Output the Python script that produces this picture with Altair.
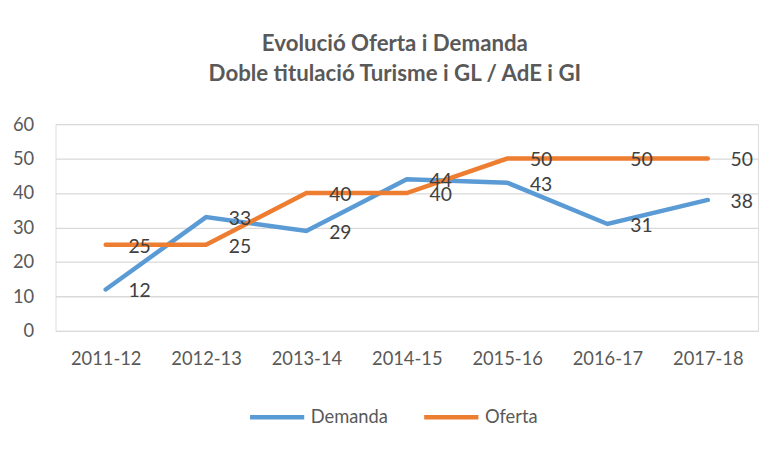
import altair as alt
import pandas as pd

years = ["2011-12", "2012-13", "2013-14", "2014-15", "2015-16", "2016-17", "2017-18"]
demanda = [12, 33, 29, 44, 43, 31, 38]
oferta = [25, 25, 40, 40, 50, 50, 50]
series = ["Demanda", "Oferta"]
colors = ["#5B9BD5", "#ED7D31"]

rows = []
for s, vals in zip(series, [demanda, oferta]):
    for y, v in zip(years, vals):
        rows.append({"Curs": y, "Valor": v, "Serie": s, "ord": series.index(s)})
df = pd.DataFrame(rows)

FONT = "Lato"

x = alt.X("Curs:N", sort=years, scale=alt.Scale(type="point", padding=0.5),
          axis=alt.Axis(title=None, labelAngle=0, domain=False, ticks=False, grid=False,
                        labelFontSize=18.5, labelColor="#595959", labelPadding=19, labelFont=FONT))
y = alt.Y("Valor:Q", scale=alt.Scale(domain=[0, 60], nice=False),
          axis=alt.Axis(title=None, values=[0, 10, 20, 30, 40, 50, 60], domain=False, ticks=False,
                        gridColor="#D9D9D9", gridWidth=1.3, labelFontSize=18.5, labelColor="#595959",
                        labelPadding=22, labelFont=FONT))
color = alt.Color("Serie:N", scale=alt.Scale(domain=series, range=colors),
                  legend=alt.Legend(title=None, orient="none", direction="horizontal",
                                    legendX=194, legendY=266,
                                    symbolType="stroke", symbolSize=3000, symbolStrokeWidth=4.5,
                                    labelFontSize=18.5, labelColor="#595959", labelFont=FONT,
                                    labelOffset=4, columnPadding=27, symbolOffset=0))

base = alt.Chart(df)
lines = base.mark_line(strokeWidth=4.5, strokeCap="round").encode(
    x=x, y=y, color=color, order=alt.Order("ord:Q"), detail="Serie:N")
labels = base.mark_text(align="left", baseline="middle", dx=23, dy=2, fontSize=19.5,
                        color="#404040", font=FONT).encode(
    x=x, y=y, text="Valor:Q")

chart = (lines + labels).properties(
    width=710, height=209,
    autosize=alt.AutoSizeParams(type="none"),
    padding={"left": 48, "top": 115, "right": 3, "bottom": 110},
    title=alt.TitleParams(
        text=["Evolució Oferta i Demanda", "Doble titulació Turisme i GL / AdE i GI"],
        fontSize=22.5, font=FONT, fontWeight="bold", color="#595959",
        anchor="middle", dx=-12, offset=30, lineHeight=30),
).configure_view(stroke=None).configure(background="white")

chart.save("out.html", embed_options={"renderer": "svg", "actions": False})
